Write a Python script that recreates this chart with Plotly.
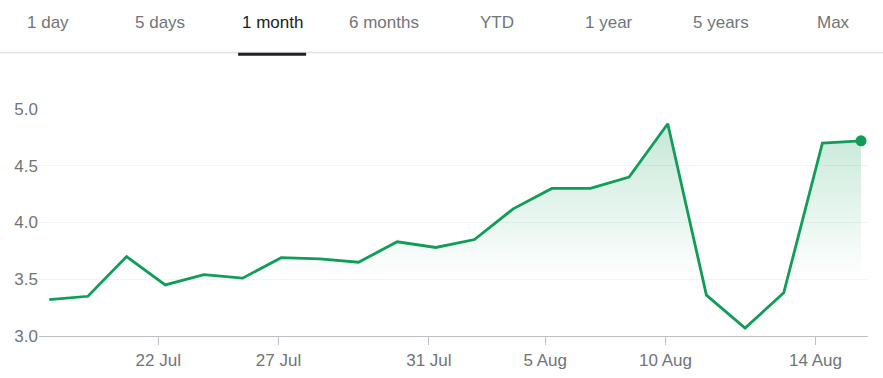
import plotly.graph_objects as go

# ---- data ----
dates = ["17 Jul", "20 Jul", "21 Jul", "22 Jul", "23 Jul", "24 Jul", "27 Jul", "28 Jul",
         "29 Jul", "30 Jul", "31 Jul", "3 Aug", "4 Aug", "5 Aug", "6 Aug", "7 Aug",
         "10 Aug", "11 Aug", "12 Aug", "13 Aug", "14 Aug", "17 Aug"]
prices = [3.32, 3.35, 3.70, 3.45, 3.54, 3.51, 3.69, 3.68, 3.65, 3.83, 3.78, 3.85,
          4.12, 4.30, 4.30, 4.40, 4.87, 3.36, 3.07, 3.38, 4.70, 4.72]
tick_positions = [2.82, 5.93, 9.82, 12.83, 15.94, 19.82]
tick_labels = ["22 Jul", "27 Jul", "31 Jul", "5 Aug", "10 Aug", "14 Aug"]
y_ticks = [3.0, 3.5, 4.0, 4.5, 5.0]
tabs = ["1 day", "5 days", "1 month", "6 months", "YTD", "1 year", "5 years", "Max"]
selected_tab = "1 month"

# ---- layout geometry ----
W, H = 883, 378
ML, MR, MT, MB = 39, 15, 109, 42
PW, PH = W - ML - MR, H - MT - MB


def px(x):
    return (x - ML) / PW


def py(y):
    return (H - MB - y) / PH


GREEN = "#0f9d58"
GRAY = "#70757a"
FONT = "Liberation Sans, Arial, sans-serif"

idx = list(range(len(prices)))

fig = go.Figure()
fig.add_trace(go.Scatter(
    x=idx, y=prices, mode="lines", text=dates,
    line=dict(color=GREEN, width=2.8),
    fill="tozeroy",
    fillgradient=dict(type="vertical", start=3.5, stop=5.0,
                      colorscale=[[0, "rgba(15,157,88,0)"], [1, "rgba(15,157,88,0.26)"]]),
    hovertemplate="%{text}: %{y:.2f}<extra></extra>",
    showlegend=False,
))
fig.add_trace(go.Scatter(
    x=[idx[-1]], y=[prices[-1]], mode="markers",
    marker=dict(color=GREEN, size=11),
    showlegend=False, hoverinfo="skip",
))

shapes = [
    dict(type="line", xref="paper", yref="paper", x0=px(0), x1=px(W), y0=py(52.5), y1=py(52.5),
         line=dict(color="#dfe1e5", width=1.5)),
]
annotations = []
for k, t in enumerate(tabs):
    cx = 47.5 + k * 112.29
    annotations.append(dict(
        text=t, xref="paper", yref="paper", x=px(cx), y=py(23), xanchor="center", yanchor="middle",
        showarrow=False, font=dict(family=FONT, size=17, color="#202124" if t == selected_tab else GRAY),
    ))
    if t == selected_tab:
        shapes.append(dict(type="rect", xref="paper", yref="paper", x0=px(cx - 34), x1=px(cx + 34),
                           y0=py(55.7), y1=py(52.7), fillcolor="#202124", line=dict(width=0)))

fig.update_layout(
    width=W, height=H,
    margin=dict(l=ML, r=MR, t=MT, b=MB),
    paper_bgcolor="white", plot_bgcolor="white",
    font=dict(family=FONT, size=17, color=GRAY),
    shapes=shapes, annotations=annotations,
    xaxis=dict(range=[-0.266, 21.18], tickvals=tick_positions, ticktext=tick_labels,
               showgrid=False, zeroline=False, showline=True, linecolor="#bdc1c6", linewidth=1.3,
               ticks="outside", ticklen=8, tickcolor="#bdc1c6", tickwidth=1.3, automargin=False,
               tickfont=dict(family=FONT, size=17, color=GRAY), fixedrange=True),
    yaxis=dict(range=[3.0, 5.0], tickvals=y_ticks, ticktext=[f"{v:.1f}" for v in y_ticks],
               showgrid=True, gridcolor="#f1f3f4", gridwidth=1, zeroline=False, showline=False,
               ticks="", tickfont=dict(family=FONT, size=17, color=GRAY), ticklabelstandoff=0,
               automargin=False, fixedrange=True),
    hovermode="closest",
)

fig.write_html("out.html", config={"displayModeBar": False},
               post_script="document.body.style.margin='0';document.body.style.overflow='hidden';")
